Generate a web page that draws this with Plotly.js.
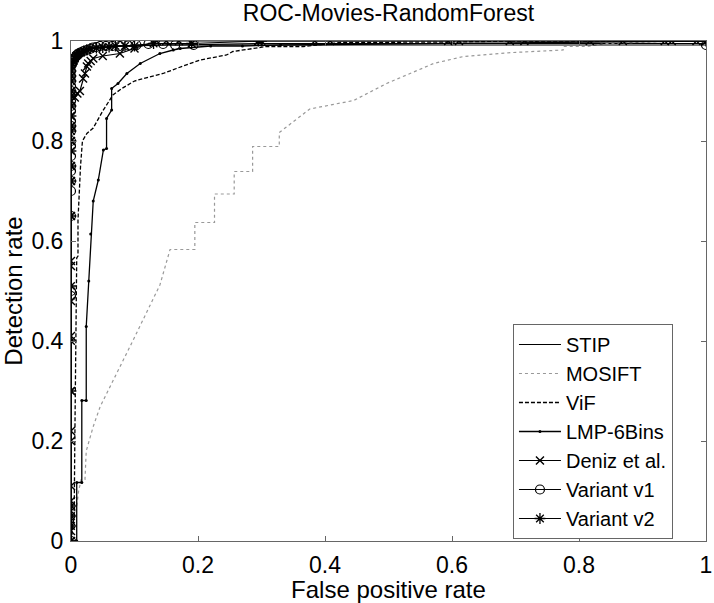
<!DOCTYPE html>
<html>
<head>
<meta charset="utf-8">
<script src="https://cdn.plot.ly/plotly-3.0.1.min.js"></script>
<style>html,body{margin:0;padding:0;background:#fff;}#chart{width:714px;height:603px;}</style>
</head>
<body>
<div id="chart"></div>
<script>
// ---- data ----
var tickVals = [0, 0.2, 0.4, 0.6, 0.8, 1];
var tickText = ["0", "0.2", "0.4", "0.6", "0.8", "1"];

var stipFpr = [0, 0, 0.003, 0.01, 0.03, 0.08, 0.3, 1, 1];
var stipTpr = [0, 0.94, 0.96, 0.975, 0.985, 0.99, 0.995, 0.995, 1];

var mosiftFpr = [0, 0.003, 0.009, 0.012, 0.016, 0.022, 0.024, 0.035, 0.046, 0.067, 0.098, 0.14, 0.156, 0.195, 0.195, 0.226, 0.226, 0.257, 0.257, 0.286, 0.286, 0.328, 0.328, 0.376, 0.445, 0.497, 0.571, 0.618, 0.696, 0.775, 0.775, 0.812, 0.843, 0.932, 1];
var mosiftTpr = [0, 0.04, 0.069, 0.1, 0.123, 0.123, 0.18, 0.229, 0.269, 0.322, 0.402, 0.512, 0.583, 0.583, 0.637, 0.637, 0.694, 0.694, 0.739, 0.739, 0.789, 0.789, 0.817, 0.864, 0.881, 0.915, 0.955, 0.969, 0.977, 0.982, 0.989, 0.989, 0.995, 0.999, 1];

var vifFpr = [0, 0.005, 0.006, 0.007, 0.009, 0.011, 0.011, 0.015, 0.018, 0.025, 0.035, 0.05, 0.066, 0.08, 0.10, 0.124, 0.145, 0.166, 0.203, 0.245, 0.255, 0.308, 0.366, 0.424, 0.5, 0.6, 0.7, 1];
var vifTpr = [0, 0.05, 0.2, 0.4, 0.566, 0.57, 0.642, 0.75, 0.80, 0.815, 0.826, 0.86, 0.892, 0.905, 0.92, 0.928, 0.935, 0.945, 0.962, 0.972, 0.979, 0.989, 0.989, 0.997, 0.997, 0.998, 1, 1];

var lmpFpr = [0, 0.009, 0.009, 0.017, 0.017, 0.024, 0.024, 0.028, 0.031, 0.035, 0.043, 0.051, 0.056, 0.056, 0.064, 0.064, 0.074, 0.088, 0.109, 0.14, 0.161, 0.172, 0.22, 0.27, 0.33, 0.6, 0.733, 0.8, 1];
var lmpTpr = [0, 0, 0.117, 0.117, 0.281, 0.281, 0.429, 0.52, 0.614, 0.68, 0.722, 0.782, 0.785, 0.845, 0.862, 0.905, 0.915, 0.935, 0.955, 0.975, 0.982, 0.985, 0.99, 0.99, 0.992, 0.995, 0.997, 0.997, 1];

var denizFpr = [0, 0, 0, 0, 0, 0, 0, 0, 0, 0, 0, 0, 0, 0, 0, 0, 0, 0, 0, 0.006, 0.01, 0.014, 0.019, 0.022, 0.025, 0.027, 0.031, 0.035, 0.05, 0.077, 0.1, 0.135, 0.15, 0.17, 0.295, 0.384, 0.408, 0.594, 0.611, 0.691, 0.714, 0.817, 0.869, 0.935, 0.946, 0.985, 1];
var denizTpr = [0, 0.02, 0.04, 0.06, 0.08, 0.11, 0.2, 0.22, 0.3, 0.41, 0.48, 0.55, 0.56, 0.65, 0.72, 0.75, 0.8, 0.85, 0.88, 0.887, 0.895, 0.9, 0.925, 0.935, 0.949, 0.955, 0.96, 0.965, 0.97, 0.975, 0.985, 1, 1, 1, 1, 1, 1, 1, 1, 1, 1, 1, 1, 1, 1, 1, 1];

var v1Fpr = [0, 0, 0, 0, 0, 0, 0, 0, 0, 0, 0, 0, 0, 0, 0, 0, 0, 0, 0, 0, 0, 0, 0, 0, 0.002, 0.003, 0.005, 0.007, 0.009, 0.012, 0.015, 0.02, 0.025, 0.03, 0.035, 0.04, 0.046, 0.055, 0.065, 0.077, 0.09, 0.103, 0.122, 0.145, 0.164, 0.193, 1];
var v1Tpr = [0, 0.49, 0.5, 0.65, 0.7, 0.72, 0.74, 0.75, 0.77, 0.79, 0.8, 0.82, 0.83, 0.84, 0.86, 0.87, 0.88, 0.89, 0.9, 0.91, 0.92, 0.93, 0.94, 0.95, 0.955, 0.96, 0.965, 0.968, 0.972, 0.975, 0.977, 0.98, 0.982, 0.984, 0.987, 0.988, 0.99, 0.99, 0.99, 0.99, 0.991, 0.992, 0.994, 0.994, 0.992, 0.992, 0.992];

var v2Fpr = [0, 0, 0, 0, 0, 0, 0, 0, 0, 0, 0, 0, 0, 0, 0, 0, 0, 0, 0, 0, 0, 0, 0.002, 0.004, 0.006, 0.008, 0.01, 0.012, 0.016, 0.02, 0.025, 0.03, 0.04, 0.05, 0.06, 0.07, 0.085, 0.1, 0.13, 0.19, 0.295, 0.3, 1];
var v2Tpr = [0, 0.03, 0.05, 0.07, 0.3, 0.4, 0.51, 0.65, 0.72, 0.75, 0.78, 0.8, 0.82, 0.83, 0.85, 0.87, 0.89, 0.9, 0.92, 0.93, 0.94, 0.95, 0.955, 0.96, 0.965, 0.97, 0.972, 0.975, 0.977, 0.98, 0.982, 0.985, 0.986, 0.987, 0.988, 0.99, 0.99, 0.99, 0.995, 0.995, 1, 1, 1];

// ---- chart ----
var FONT = "Liberation Sans, Arial, Helvetica, sans-serif";
var BLACK = "#000000";

function tr(name, x, y, line, marker) {
  var t = {type: "scatter", name: name, x: x, y: y, line: line, hoverinfo: "skip"};
  if (marker) { t.mode = "lines+markers"; t.marker = marker; } else { t.mode = "lines"; }
  return t;
}

var data = [
  tr("STIP", stipFpr, stipTpr, {color: BLACK, width: 1.2}),
  tr("MOSIFT", mosiftFpr, mosiftTpr, {color: "#999999", width: 1.2, dash: "dot"}),
  tr("ViF", vifFpr, vifTpr, {color: BLACK, width: 1.3, dash: "4px,2px"}),
  tr("LMP-6Bins", lmpFpr, lmpTpr, {color: BLACK, width: 1.3},
     {symbol: "circle", size: 3, color: BLACK}),
  tr("Deniz et al.", denizFpr, denizTpr, {color: BLACK, width: 1.2},
     {symbol: "x-thin-open", size: 8, color: BLACK, line: {color: BLACK, width: 1.4}}),
  tr("Variant v1", v1Fpr, v1Tpr, {color: BLACK, width: 1.2},
     {symbol: "circle-open", size: 9, color: BLACK, line: {color: BLACK, width: 1.2}}),
  tr("Variant v2", v2Fpr, v2Tpr, {color: BLACK, width: 1.2},
     {symbol: "asterisk-open", size: 9, color: BLACK, line: {color: BLACK, width: 1.3}})
];

var axisCommon = {
  range: [0, 1],
  tickvals: tickVals,
  ticktext: tickText,
  ticks: "inside",
  ticklen: 5,
  tickwidth: 1,
  tickcolor: "#666666",
  showline: true,
  linecolor: "#666666",
  linewidth: 1,
  mirror: "ticks",
  showgrid: false,
  zeroline: false,
  fixedrange: true,
  tickfont: {family: FONT, size: 23, color: BLACK}
};

var layout = {
  width: 714,
  height: 603,
  margin: {l: 71, r: 8, t: 41, b: 62, pad: 0},
  paper_bgcolor: "#ffffff",
  plot_bgcolor: "#ffffff",
  font: {family: FONT, color: BLACK},
  title: {text: "ROC-Movies-RandomForest", font: {family: FONT, size: 23, color: BLACK},
          x: 0.5, xref: "paper", xanchor: "center", y: 0.978, yref: "container", yanchor: "middle"},
  xaxis: Object.assign({}, axisCommon, {
    ticklabelstandoff: 3,
    title: {text: "False positive rate", font: {family: FONT, size: 24, color: BLACK}, standoff: 1}
  }),
  yaxis: Object.assign({}, axisCommon, {
    ticklabelstandoff: 2,
    title: {text: "Detection rate", font: {family: FONT, size: 24, color: BLACK}, standoff: 2}
  }),
  showlegend: true,
  legend: {
    x: 0.696, xanchor: "left", y: 0.434, yanchor: "top",
    bgcolor: "#ffffff", bordercolor: "#666666", borderwidth: 1,
    font: {family: FONT, size: 20, color: BLACK},
    tracegroupgap: 0, itemwidth: 42
  }
};

Plotly.newPlot("chart", data, layout, {staticPlot: true, displayModeBar: false});
</script>
</body>
</html>
